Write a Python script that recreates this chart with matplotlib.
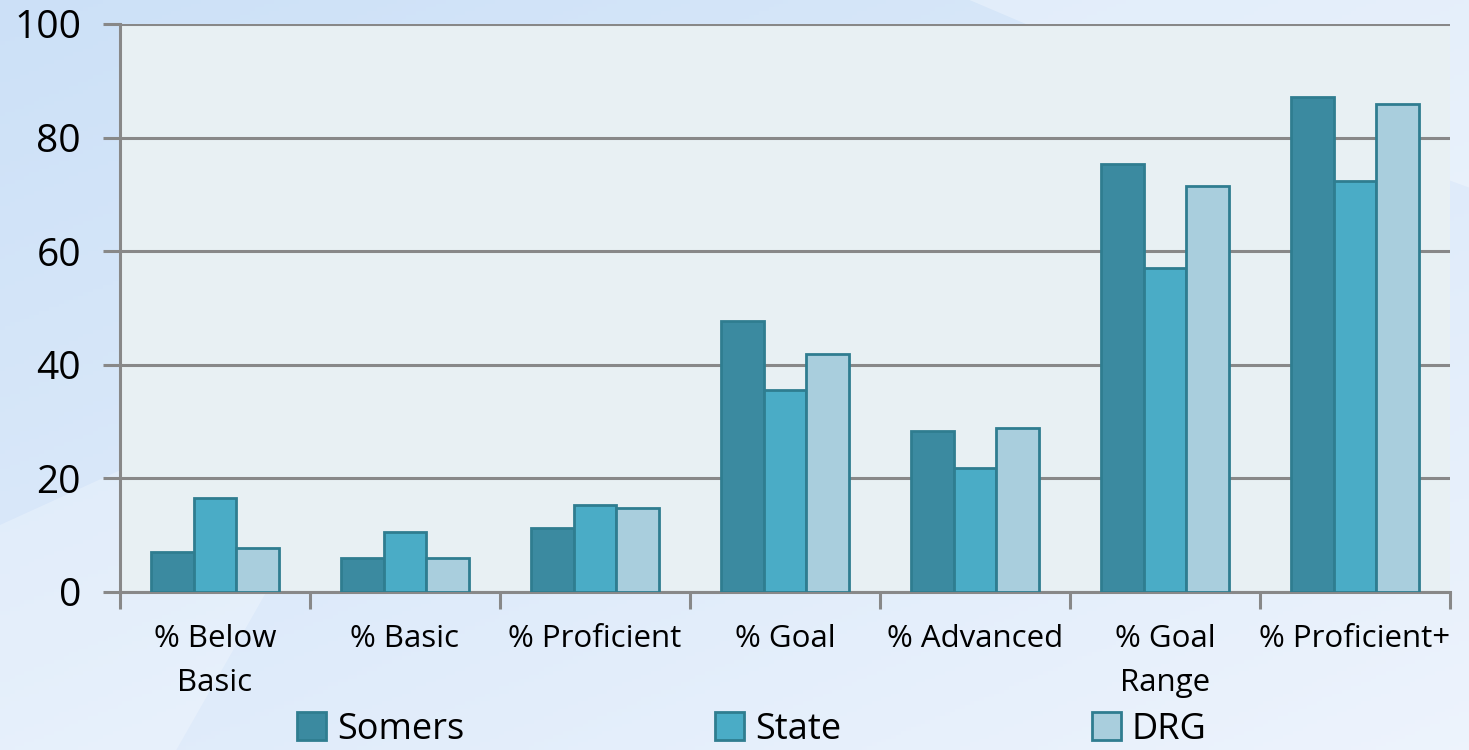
import matplotlib
matplotlib.use("Agg")
import matplotlib.pyplot as plt
import numpy as np
from matplotlib.patches import Patch, Polygon

categories = ["% Below\nBasic", "% Basic", "% Proficient", "% Goal", "% Advanced", "% Goal\nRange", "% Proficient+"]
series_names = ["Somers", "State", "DRG"]
somers = [7.1, 6.0, 11.3, 47.7, 28.3, 75.3, 87.1]
state = [16.6, 10.6, 15.4, 35.5, 21.9, 57.1, 72.4]
drg = [7.8, 6.0, 14.8, 41.9, 28.8, 71.4, 86.0]
yticks = [0, 20, 40, 60, 80, 100]

fills = ["#3b8aa0", "#4aacc6", "#a9cedd"]
edge = "#2f7d90"
grid_c = "#888888"

plt.rcParams['font.family'] = ['Open Sans', 'DejaVu Sans']

fig = plt.figure(figsize=(14.69, 7.5), dpi=100)

# background gradient
bg = fig.add_axes([0, 0, 1, 1], zorder=-10)
yy, xx = np.mgrid[0:1:200j, 0:1:300j]
t = np.clip(0.55 * yy + 0.45 * xx, 0, 1)
c0 = np.array([0.80, 0.88, 0.97])
c1 = np.array([0.93, 0.955, 0.99])
img = c0[None, None, :] * (1 - t[..., None]) + c1[None, None, :] * t[..., None]
bg.imshow(img, extent=[0, 1, 0, 1], aspect='auto', origin='upper')
bg.add_patch(Polygon([[0.0, 0.0], [0.12, 0.0], [0.28, 0.55], [0.0, 0.3]], closed=True,
                     facecolor='white', alpha=0.25, edgecolor='none'))
bg.add_patch(Polygon([[0.66, 1.0], [1.0, 1.0], [1.0, 0.75], [0.72, 0.95]], closed=True,
                     facecolor='white', alpha=0.3, edgecolor='none'))
bg.set_xlim(0, 1); bg.set_ylim(0, 1)
bg.axis('off')

ax = fig.add_axes([120/1469, 1 - 592/750, 1330/1469, 568/750])
ax.set_facecolor("#e8f0f3")

x = np.arange(len(categories))
w = 0.226
for i, (vals, name) in enumerate(zip([somers, state, drg], series_names)):
    ax.bar(x + (i - 1) * w, vals, width=w, color=fills[i], edgecolor=edge,
           linewidth=2.0, label=name, zorder=3)

ax.set_xlim(-0.5, len(categories) - 0.5)
ax.set_ylim(0, 100)
ax.set_yticks(yticks)
ax.set_yticklabels([str(v) for v in yticks], fontsize=28)
ax.yaxis.grid(True, color=grid_c, linewidth=2.2, zorder=1)
ax.set_axisbelow(True)

ax.set_xticks(x)
ax.set_xticklabels(categories, fontsize=22.5, linespacing=1.62)
ax.tick_params(axis='x', length=0, pad=23)
ax.set_xticks(np.arange(len(categories) + 1) - 0.5, minor=True)
ax.tick_params(axis='x', which='minor', length=12, width=2.2, color=grid_c)
ax.tick_params(axis='y', length=12, width=2.2, color=grid_c, pad=16)

for s in ['top', 'right']:
    ax.spines[s].set_visible(False)
ax.spines['left'].set_color(grid_c)
ax.spines['left'].set_linewidth(2.2)
ax.spines['bottom'].set_color(grid_c)
ax.spines['bottom'].set_linewidth(2.2)

handles = [Patch(facecolor=fills[i], edgecolor=edge, linewidth=2.0, label=series_names[i]) for i in range(3)]
fig.legend(handles=handles, loc='center', bbox_to_anchor=(0.512, 0.027), ncol=3,
           frameon=False, fontsize=26, handlelength=0.8, handleheight=0.8,
           handletextpad=0.3, columnspacing=6.95, borderpad=0)

fig.savefig("out.png", dpi=100)
